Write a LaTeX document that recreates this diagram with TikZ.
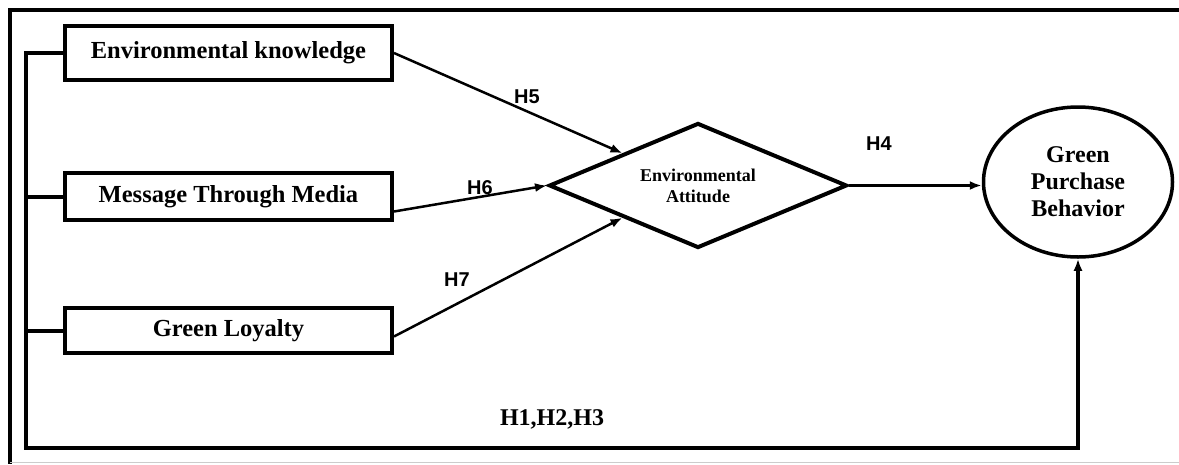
\documentclass[tikz,border=0pt]{standalone}
\usepackage{fontspec}
\setmainfont{Liberation Serif}
\setsansfont{Liberation Sans}
\usetikzlibrary{arrows,arrows.meta,shapes,shapes.geometric}

\begin{document}
\begin{tikzpicture}[x=1pt,y=-1pt,>={Latex[length=12pt,width=9pt]},inner sep=1pt,
  factor/.style={rectangle,draw,line width=4pt,minimum width=327pt,
    font=\fontsize{24.5}{28}\selectfont\bfseries},
  hyp/.style={font=\fontsize{20}{24}\selectfont\sffamily\bfseries},
  link/.style={->,line width=2.5pt}]
\useasboundingbox (0,0) rectangle (1179,464);
% frame
\draw[line width=4.5pt] (1179,10) -- (10,10) -- (10,464);
\draw[gray!40,line width=1.5pt] (10,462.5) -- (1179,462.5);
%
\node[factor,minimum height=54pt] (ek) at (228.5,53) {Environmental knowledge};
\node[factor,minimum height=47pt] (mtm) at (228.5,196.5) {Message Through Media};
\node[factor,minimum height=45pt] (gl) at (228.5,330.5) {Green Loyalty};
%
\node[diamond,draw,line width=4pt,inner sep=0pt,shape aspect=2.38,
  minimum width=298pt,minimum height=125pt,align=center,
  font=\fontsize{18}{21}\selectfont\bfseries] (ea) at (698,185.5)
  {Environmental\\Attitude};
\node[ellipse,draw,line width=3.5pt,minimum width=189pt,minimum height=150pt,
  align=center,font=\fontsize{24}{27}\selectfont\bfseries] (gpb) at (1078,182)
  {Green\\Purchase\\Behavior};
%
\node[hyp] (h5) at (527,97) {H5};
\node[hyp] (h6) at (480,188) {H6};
\node[hyp] (h7) at (457,280) {H7};
\node[hyp] (h4) at (879,144) {H4};
\node[font=\fontsize{24}{28}\selectfont\bfseries] (h123) at (552,419) {H1,H2,H3};
%
\coordinate (fb) at (26,448);
\draw[link] (ek.east) -- (ea.north west);
\draw[link] ([yshift=-15pt]mtm.east) -- (ea.west);
\draw[link] ([yshift=-6pt]gl.east) -- (ea.south west);
\draw[link] (ea.east) -- (ea.east -| gpb.west);
\draw[link,line width=4pt] (ek.west) -| (fb) -| (gpb.south);
\draw[line width=4pt] (mtm.west) -- (mtm.west -| fb) (gl.west) -- (gl.west -| fb);
\end{tikzpicture}
\end{document}
